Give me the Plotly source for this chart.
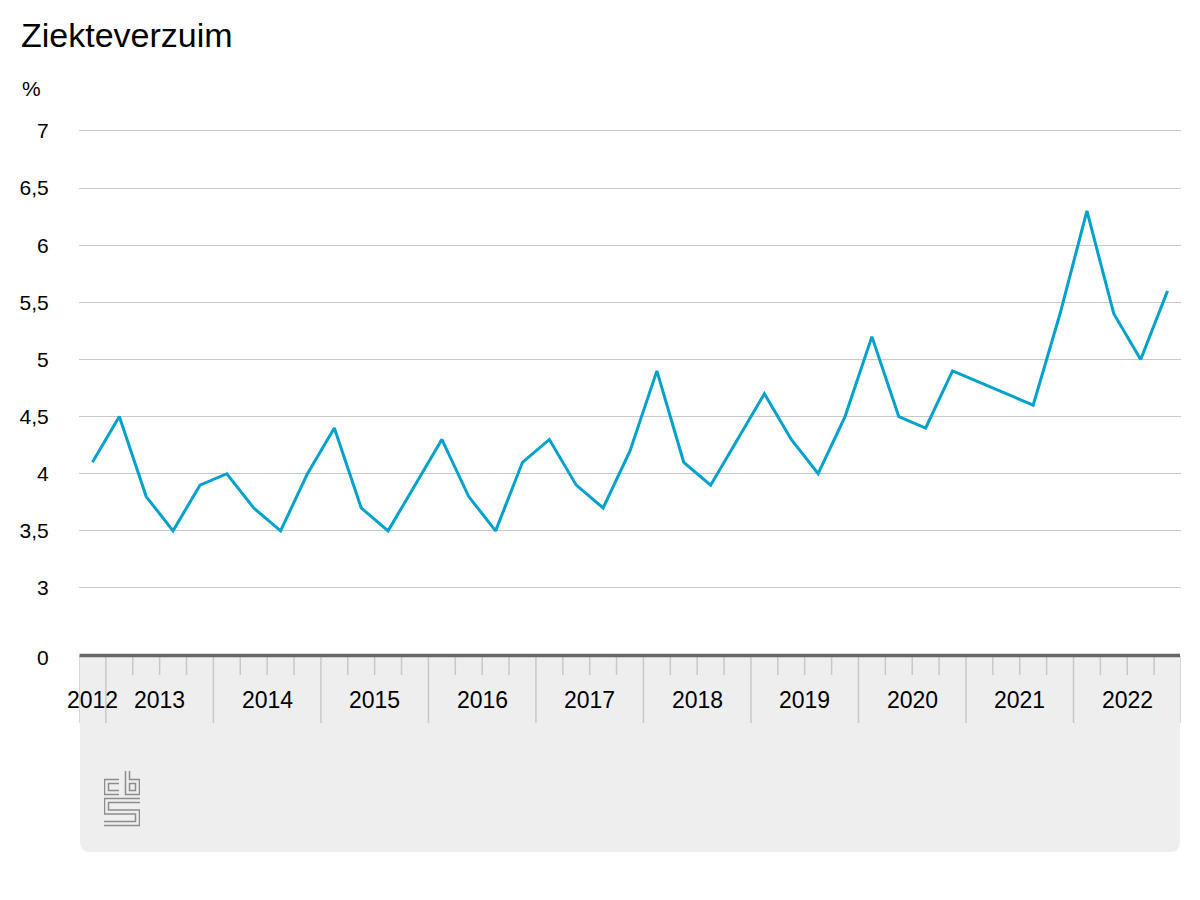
import base64
import plotly.graph_objects as go

# ---------------- data ----------------
quarters = ["2012 Q4",
            "2013 Q1", "2013 Q2", "2013 Q3", "2013 Q4",
            "2014 Q1", "2014 Q2", "2014 Q3", "2014 Q4",
            "2015 Q1", "2015 Q2", "2015 Q3", "2015 Q4",
            "2016 Q1", "2016 Q2", "2016 Q3", "2016 Q4",
            "2017 Q1", "2017 Q2", "2017 Q3", "2017 Q4",
            "2018 Q1", "2018 Q2", "2018 Q3", "2018 Q4",
            "2019 Q1", "2019 Q2", "2019 Q3", "2019 Q4",
            "2020 Q1", "2020 Q2", "2020 Q3", "2020 Q4",
            "2021 Q1", "2021 Q2", "2021 Q3", "2021 Q4",
            "2022 Q1", "2022 Q2", "2022 Q3", "2022 Q4"]
verzuim = [4.1,
           4.5, 3.8, 3.5, 3.9,
           4.0, 3.7, 3.5, 4.0,
           4.4, 3.7, 3.5, 3.9,
           4.3, 3.8, 3.5, 4.1,
           4.3, 3.9, 3.7, 4.2,
           4.9, 4.1, 3.9, 4.3,
           4.7, 4.3, 4.0, 4.5,
           5.2, 4.5, 4.4, 4.9,
           4.8, 4.7, 4.6, 5.4,
           6.3, 5.4, 5.0, 5.6]
years = ["2012", "2013", "2014", "2015", "2016", "2017",
         "2018", "2019", "2020", "2021", "2022"]
y_tick_labels = ["0", "3", "3,5", "4", "4,5", "5", "5,5", "6", "6,5", "7"]
y_tick_values = [2.387, 3, 3.5, 4, 4.5, 5, 5.5, 6, 6.5, 7]

# ---------------- layout constants (absolute page pixels) ----------------
OFF = 8                      # default body margin of the html page
W, H = 1200 - 2 * OFF, 900 - 2 * OFF
PX_LEFT, PX_RIGHT = 79, 1181
PX_TOP, PX_BOTTOM = 128, 658
Y_MIN = 2.387
Y_SCALE = 114.25             # px per unit
Y_MAX = Y_MIN + (PX_BOTTOM - PX_TOP) / Y_SCALE
L = PX_LEFT - OFF
T = PX_TOP - OFF
PLOT_W = PX_RIGHT - PX_LEFT
PLOT_H = PX_BOTTOM - PX_TOP
R = W - L - PLOT_W
B = H - T - PLOT_H
FONT = "Liberation Sans, Arial, sans-serif"

def px_x(ax):
    return (ax - PX_LEFT) / PLOT_W

def px_y(ay):
    return (PX_BOTTOM - ay) / PLOT_H

xidx = list(range(len(quarters)))
year_of = [q.split()[0] for q in quarters]

fig = go.Figure()
fig.add_trace(go.Scatter(
    x=xidx, y=verzuim, mode="lines",
    line=dict(color="#00a1cd", width=3),
    customdata=quarters,
    hovertemplate="%{customdata}: %{y}<extra></extra>",
    showlegend=False, cliponaxis=False,
))

shapes = []
# grey panel with rounded bottom corners
x0, x1 = px_x(80), px_x(1180)
yt, yb = px_y(655), px_y(852)
rx, ry = 10 / PLOT_W, 10 / PLOT_H
path = (f"M {x0},{yt} L {x1},{yt} L {x1},{yb + ry} Q {x1},{yb} {x1 - rx},{yb} "
        f"L {x0 + rx},{yb} Q {x0},{yb} {x0},{yb + ry} Z")
shapes.append(dict(type="path", path=path, xref="paper", yref="paper",
                   fillcolor="#eeeeee", line=dict(width=0), layer="below"))

# quarter ticks / year separators
n = len(quarters)
for b in range(n + 1):
    xb = b - 0.5
    left_year = year_of[b - 1] if b > 0 else None
    right_year = year_of[b] if b < n else None
    is_year = left_year != right_year
    length = 67 if is_year else 19
    shapes.append(dict(type="line", xref="x", yref="paper",
                       x0=xb, x1=xb, y0=px_y(656), y1=px_y(656 + length),
                       line=dict(color="#c8c8c8", width=1.5)))

# thick x axis line
shapes.append(dict(type="line", xref="paper", yref="paper",
                   x0=px_x(79.5), x1=px_x(1180), y0=px_y(655.5), y1=px_y(655.5),
                   line=dict(color="#666666", width=3.5)))

annotations = []
# year labels centred under their quarters
for yr in years:
    idx = [i for i, y in enumerate(year_of) if y == yr]
    cx = (idx[0] + idx[-1]) / 2
    annotations.append(dict(text=yr, x=cx, xref="x", y=px_y(700), yref="paper",
                            xanchor="center", yanchor="middle", showarrow=False,
                            font=dict(family=FONT, size=23, color="#000000")))
# title and unit
annotations.append(dict(text="Ziekteverzuim", x=px_x(19), xref="paper",
                        y=px_y(35), yref="paper", xanchor="left", yanchor="middle",
                        showarrow=False,
                        font=dict(family=FONT, size=34, color="#000000")))
annotations.append(dict(text="%", x=px_x(20), xref="paper",
                        y=px_y(88), yref="paper", xanchor="left", yanchor="middle",
                        showarrow=False,
                        font=dict(family=FONT, size=21, color="#000000")))

# CBS logo as small inline SVG
logo_path_c = "M15,10.5 L2.5,10.5 L2.5,21.5 L15,21.5"
logo_path_b = "M23.5,0 L23.5,21.5 L33.5,21.5 L33.5,10.5 L23.5,10.5"
logo_path_s = "M36,29.5 L2.5,29.5 L2.5,41 L33.5,41 L33.5,52.5 L0,52.5"
svg = ('<svg xmlns="http://www.w3.org/2000/svg" width="36" height="56" viewBox="0 0 36 56">'
       '<g fill="none" stroke-linejoin="miter" stroke-linecap="butt">'
       f'<path d="{logo_path_c}" stroke="#8c8c8c" stroke-width="5.5"/>'
       f'<path d="{logo_path_b}" stroke="#8c8c8c" stroke-width="5.5"/>'
       f'<path d="{logo_path_s}" stroke="#8c8c8c" stroke-width="5.5"/>'
       f'<path d="{logo_path_c}" stroke="#eeeeee" stroke-width="2.5"/>'
       f'<path d="{logo_path_b}" stroke="#eeeeee" stroke-width="2.5"/>'
       f'<path d="{logo_path_s}" stroke="#eeeeee" stroke-width="2.5"/>'
       '</g></svg>')
logo_uri = "data:image/svg+xml;base64," + base64.b64encode(svg.encode()).decode()

fig.update_layout(
    width=W, height=H,
    margin=dict(l=L, r=R, t=T, b=B, pad=0),
    paper_bgcolor="white", plot_bgcolor="white",
    font=dict(family=FONT, color="#000000"),
    shapes=shapes, annotations=annotations,
    images=[dict(source=logo_uri, xref="paper", yref="paper",
                 x=px_x(104), y=px_y(771), sizex=36 / PLOT_W, sizey=56 / PLOT_H,
                 xanchor="left", yanchor="top", sizing="stretch", layer="above")],
    xaxis=dict(range=[-0.5, n - 0.5], showgrid=False, zeroline=False,
               showticklabels=False, ticks="", showline=False, fixedrange=True),
    yaxis=dict(range=[Y_MIN, Y_MAX], tickvals=y_tick_values, ticktext=y_tick_labels,
               showgrid=True, gridcolor="#c8c8c8", gridwidth=1.2, zeroline=False,
               showline=False, ticks="outside", ticklen=25,
               tickcolor="rgba(0,0,0,0)",
               tickfont=dict(family=FONT, size=21, color="#000000"),
               fixedrange=True),
    hovermode="closest",
)

fig.write_html("out.html")
